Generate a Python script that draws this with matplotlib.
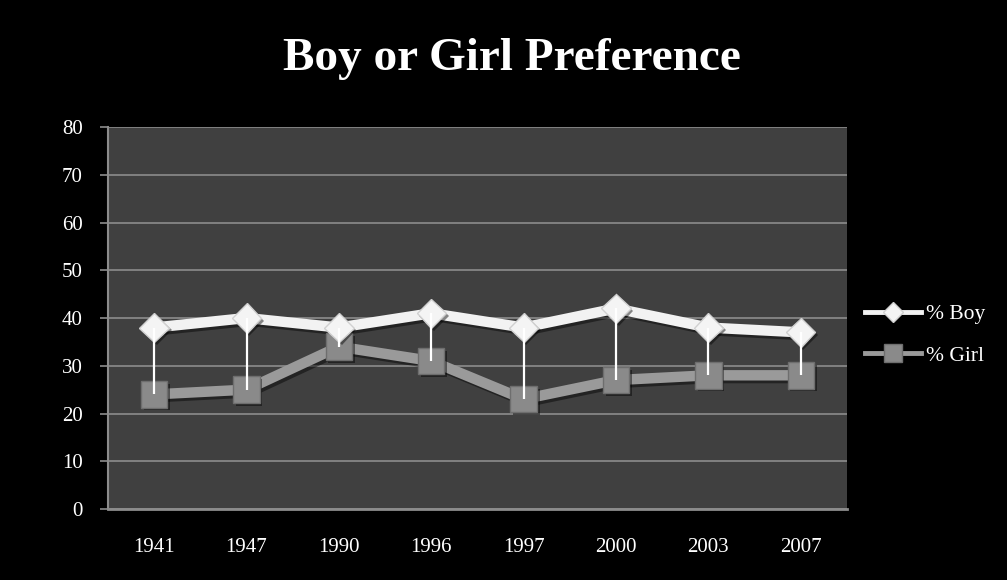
import matplotlib.pyplot as plt
import matplotlib.patheffects as pe
from matplotlib.lines import Line2D

years = ['1941', '1947', '1990', '1996', '1997', '2000', '2003', '2007']
boy = [38, 40, 38, 41, 38, 42, 38, 37]
girl = [24, 25, 34, 31, 23, 27, 28, 28]
y_ticks = [0, 10, 20, 30, 40, 50, 60, 70, 80]

serif = 'Liberation Serif'
line_shadow = [pe.SimpleLineShadow(offset=(2, -2), shadow_color='black', alpha=0.45), pe.Normal()]
mark_shadow = [pe.SimplePatchShadow(offset=(2, -2), shadow_rgbFace='black', alpha=0.45), pe.Normal()]

fig = plt.figure(figsize=(10.07, 5.80), dpi=100, facecolor='black')
ax = fig.add_axes([0.1072, 0.1224, 0.7338, 0.6586])
ax.set_facecolor('#404040')

x = list(range(len(years)))

# lines first, markers on top, drop lines on top of that
ax.plot(x, boy, color='#f2f2f2', lw=7.5, solid_joinstyle='miter', zorder=3, path_effects=line_shadow)
ax.plot(x, girl, color='#9a9a9a', lw=7.5, solid_joinstyle='miter', zorder=3, path_effects=line_shadow)
ax.plot(x, girl, ls='none', marker='s', ms=19, mfc='#8a8a8a', mec='#6e6e6e', mew=1,
        zorder=4, path_effects=mark_shadow)
ax.plot(x, boy, ls='none', marker='D', ms=15, mfc='#f4f4f4', mec='#d0d0d0', mew=1,
        zorder=4, path_effects=mark_shadow)
ax.vlines(x, girl, boy, color='white', lw=1.6, zorder=5)

ax.set_xlim(-0.5, len(years) - 0.5)
ax.set_ylim(0, 80)
ax.set_yticks(y_ticks)
ax.set_xticks(x)
ax.set_xticklabels(years)
ax.yaxis.grid(True, color='#8c8c8c', lw=1.2)
ax.set_axisbelow(True)

for side in ['top', 'right']:
    ax.spines[side].set_visible(False)
ax.spines['left'].set_color('#8c8c8c')
ax.spines['bottom'].set_color('#8c8c8c')
ax.spines['left'].set_linewidth(1.5)
ax.spines['bottom'].set_linewidth(2)

ax.tick_params(axis='y', length=6, width=1.2, color='#8c8c8c', pad=12,
               labelsize=15, labelcolor='white')
ax.tick_params(axis='x', length=0, pad=21, labelsize=15, labelcolor='white')
for lab in ax.get_xticklabels() + ax.get_yticklabels():
    lab.set_fontfamily(serif)

fig.text(0.508, 0.898, 'Boy or Girl Preference', color='white', fontsize=34,
         fontweight='bold', family=serif, ha='center', va='center')

handles = [
    Line2D([], [], color='#f2f2f2', lw=3.5, marker='D', ms=10, mfc='#f4f4f4', mec='#d0d0d0'),
    Line2D([], [], color='#9a9a9a', lw=3.5, marker='s', ms=13, mfc='#8a8a8a', mec='#6e6e6e'),
]
leg = fig.legend(handles, ['% Boy', '% Girl'], loc='center left',
                 bbox_to_anchor=(0.848, 0.4224), frameon=False, borderpad=0,
                 handlelength=2.6, handletextpad=0.25, labelspacing=1.0,
                 prop={'family': serif, 'size': 15.5})
for t in leg.get_texts():
    t.set_color('white')

fig.savefig('out.png', dpi=100, facecolor='black')
